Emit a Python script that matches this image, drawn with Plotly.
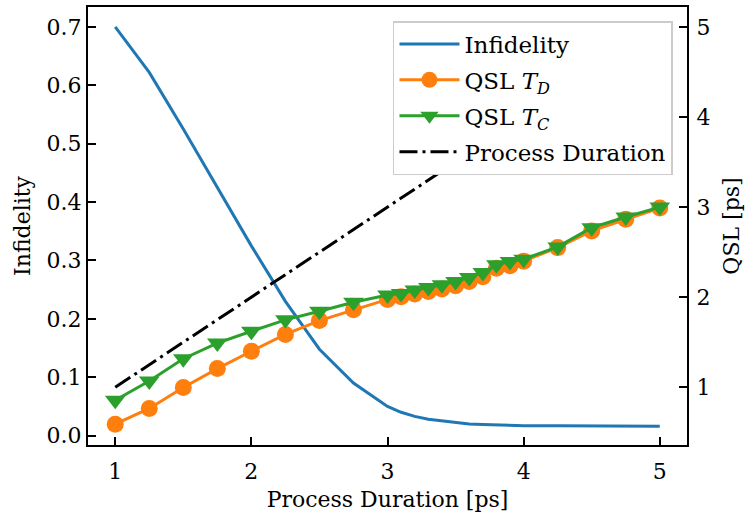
import plotly.graph_objects as go

# ---- data ----
duration = [1.0, 1.25, 1.5, 1.75, 2.0, 2.25, 2.5, 2.75, 3.0, 3.1, 3.2, 3.3, 3.4,
            3.5, 3.6, 3.7, 3.8, 3.9, 4.0, 4.25, 4.5, 4.75, 5.0]
infidelity = [0.700, 0.622, 0.525, 0.425, 0.325, 0.230, 0.148, 0.090, 0.050,
              0.040, 0.033, 0.028, 0.025, 0.022, 0.020, 0.019, 0.018, 0.0175,
              0.017, 0.017, 0.0165, 0.016, 0.016]
qsl_td = [0.59, 0.765, 0.997, 1.207, 1.40, 1.586, 1.74, 1.86, 1.975, 2.006,
          2.035, 2.064, 2.091, 2.127, 2.175, 2.227, 2.32, 2.348, 2.40, 2.55,
          2.735, 2.864, 2.99]
qsl_tc = [0.856, 1.07, 1.317, 1.49, 1.622, 1.748, 1.843, 1.943, 2.025, 2.042,
          2.08, 2.108, 2.138, 2.175, 2.219, 2.274, 2.359, 2.396, 2.422, 2.558,
          2.771, 2.89, 3.0]
pd_x = [1.0, 5.0]
pd_y = [1.0, 5.0]

x_ticks = [1, 2, 3, 4, 5]
y_ticks = [0.0, 0.1, 0.2, 0.3, 0.4, 0.5, 0.6, 0.7]
y2_ticks = [1, 2, 3, 4, 5]

FONT = "DejaVu Serif"
FS = 22
LFS = 23

fig = go.Figure()
fig.add_trace(go.Scatter(x=duration, y=infidelity, name="Infidelity", mode="lines",
                         legendgroup="a",
                         line=dict(color="#1f77b4", width=3), yaxis="y"))
fig.add_trace(go.Scatter(x=duration, y=qsl_td, name="QSL <i>T</i><sub><i>D</i></sub>",
                         mode="lines+markers", legendgroup="b",
                         line=dict(color="#ff7f0e", width=3),
                         marker=dict(symbol="circle", size=17, color="#ff7f0e"),
                         yaxis="y2"))
fig.add_trace(go.Scatter(x=duration, y=qsl_tc, name="QSL <i>T</i><sub><i>C</i></sub>",
                         mode="lines+markers", legendgroup="c",
                         line=dict(color="#2ca02c", width=3),
                         marker=dict(symbol="triangle-down", size=18, color="#2ca02c"),
                         yaxis="y2"))
fig.add_trace(go.Scatter(x=pd_x, y=pd_y, name="Process Duration", mode="lines",
                         legendgroup="d",
                         line=dict(color="black", width=3, dash="18px,5px,3px,5px"),
                         yaxis="y2"))

axis_common = dict(
    ticks="inside", ticklen=8, tickwidth=1.5, tickcolor="black",
    showline=True, linewidth=2, linecolor="black",
    showgrid=False, zeroline=False,
    tickfont=dict(family=FONT, size=FS, color="black"),
)

fig.update_layout(
    width=748, height=519,
    margin=dict(l=88, r=61, t=5, b=74),
    paper_bgcolor="white", plot_bgcolor="white",
    font=dict(family=FONT, size=FS, color="black"),
    xaxis=dict(range=[0.8, 5.2], tickvals=x_ticks, mirror=True, ticklabelstandoff=6,
               title=dict(text="Process Duration [ps]", font=dict(family=FONT, size=FS), standoff=8),
               **axis_common),
    yaxis=dict(range=[-0.016, 0.734], tickvals=y_ticks, tickformat=".1f",
               title=dict(text="Infidelity", font=dict(family=FONT, size=FS), standoff=10),
               **axis_common),
    yaxis2=dict(range=[0.359, 5.221], tickvals=y2_ticks, overlaying="y", side="right",
                ticklabelstandoff=3,
                title=dict(text="QSL [ps]", font=dict(family=FONT, size=FS), standoff=14),
                **axis_common),
    legend=dict(x=0.9766, y=0.968, xanchor="right", yanchor="top",
                bgcolor="white", bordercolor="#cccccc", borderwidth=1.5,
                font=dict(family=FONT, size=LFS, color="black"),
                itemwidth=60, tracegroupgap=3),
    showlegend=True,
)

fig.write_html("out.html")
